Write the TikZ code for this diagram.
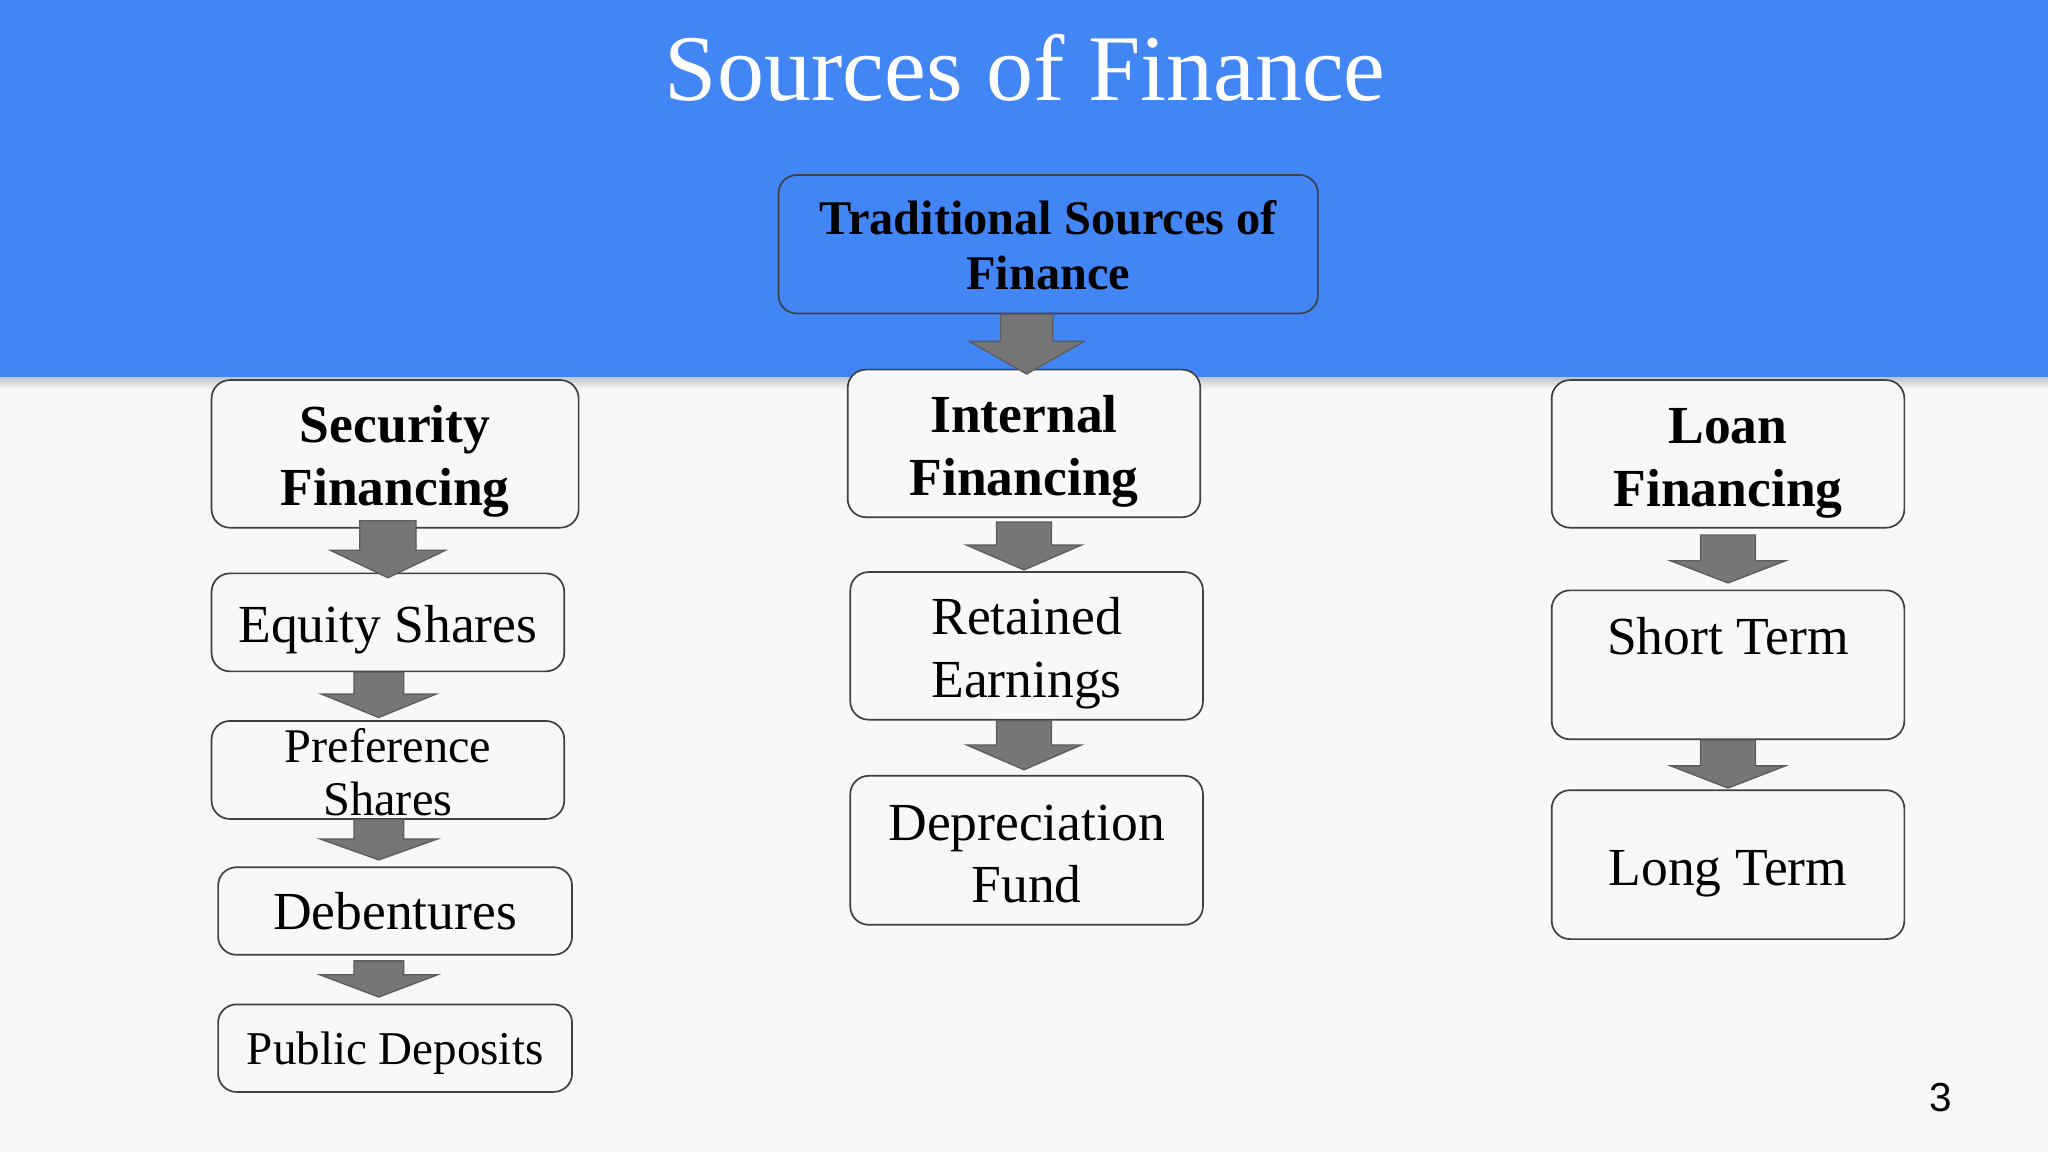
\documentclass[tikz,border=0pt]{standalone}
\usepackage{fontspec}
\setmainfont{Liberation Serif}
\newfontfamily\numfont{Liberation Sans}
\usetikzlibrary{calc}
\definecolor{band}{RGB}{66,133,244}
\definecolor{bg}{RGB}{248,248,250}
\definecolor{edge}{RGB}{64,64,64}
\definecolor{arrowfill}{RGB}{118,118,118}
\newcommand\lifted[1]{\rule{0pt}{#1}}
\tikzset{
  box/.style={draw=edge, line width=1.3pt, rounded corners=14pt, fill=bg, inner sep=0pt,
    align=center, font=\fontsize{41}{48}\selectfont},
  headbox/.style={box, font=\bfseries\fontsize{41}{48}\selectfont},
  lift/.style={execute at begin node={\rule{0pt}{#1}}},
  blockarrow/.style={draw=edge!85, fill=arrowfill, line width=1pt, line join=miter},
}
\newcommand\blockarr[5]{%
  \draw[blockarrow] let \p1=(#1), \p2=(#2) in
    (\x1-#3pt,\y1) -- (\x1+#3pt,\y1) -- (\x1+#3pt,\y2+#5pt) -- (\x1+#4pt,\y2+#5pt)
    -- (\x1,\y2) -- (\x1-#4pt,\y2+#5pt) -- (\x1-#3pt,\y2+#5pt) -- cycle;}
\begin{document}
\begin{tikzpicture}[x=1pt,y=-1pt]
\fill[bg] (0,0) rectangle (1568,882);
\fill[band] (0,0) rectangle (1568,289);
\shade[top color=black!22, bottom color=bg] (0,289) rectangle (1568,298);
\useasboundingbox (0,0) rectangle (1568,882);

\node[anchor=base, text=white, font=\fontsize{72}{80}\selectfont] (title) at (785,77) {Sources of Finance};

\node[headbox, fill=band, font=\bfseries\fontsize{37}{42}\selectfont, minimum width=413pt, minimum height=106pt] (trad) at (802.5,187) {\lifted{28pt}Traditional Sources of\\Finance};

% left column
\node[headbox, minimum width=281pt, minimum height=113pt] (sec) at (302.5,347.5) {\lifted{40pt}Security\\Financing};
\node[box, lift=40pt, minimum width=270pt, minimum height=75pt] (eq) at (297,476.5) {Equity Shares};
\node[box, font=\fontsize{37}{41}\selectfont, minimum width=270pt, minimum height=75pt] (pref) at (297,589.5) {\lifted{29.5pt}Preference\\Shares};
\node[box, minimum width=271pt, minimum height=67pt] (deb) at (302.5,697.5) {Debentures};
\node[box, font=\fontsize{36}{42}\selectfont, lift=33pt, minimum width=271pt, minimum height=67pt] (pub) at (302.5,802.5) {Public Deposits};

% middle column
\node[headbox, minimum width=270pt, minimum height=113pt] (int) at (784,339.5) {\lifted{41pt}Internal\\Financing};
\node[box, minimum width=270pt, minimum height=113pt] (ret) at (786,494.5) {\lifted{40pt}Retained\\Earnings};
\node[box, minimum width=270pt, minimum height=114pt] (dep) at (786,651) {\lifted{33pt}Depreciation\\Fund};

% right column
\node[headbox, minimum width=270pt, minimum height=113pt] (loan) at (1323,347.5) {\lifted{41pt}Loan\\Financing};
\node[box, minimum width=270pt, minimum height=114pt] (short) at (1323,509) {\lifted{32pt}Short Term\\\mbox{}};
\node[box, lift=40pt, minimum width=270pt, minimum height=114pt] (long) at (1323,662) {Long Term};

% block arrows
\blockarr{$(trad.south)+(-16.5,0)$}{$(int.north)+(2,4)$}{20}{44}{25}
\blockarr{$(sec.south)+(-5.5,-6)$}{$(eq.north)+(0,4)$}{21.5}{44}{21}
\blockarr{$(eq.south)+(-7,0)$}{$(pref.north)+(-7,-2)$}{19}{44}{18}
\blockarr{$(pref.south)+(-7,0)$}{$(deb.north)+(0,-5)$}{19}{45}{16}
\blockarr{$(deb.south)+(-12.5,4)$}{$(pub.north)+(0,-5)$}{19}{45}{17}
\blockarr{$(int.south)+(0,3)$}{$(ret.north)+(0,-1)$}{21}{44}{19}
\blockarr{$(ret.south)+(-2,0)$}{$(dep.north)+(0,-4)$}{21}{44}{19}
\blockarr{$(loan.south)+(0,5)$}{$(short.north)+(0,-5)$}{21}{44}{17}
\blockarr{$(short.south)+(0,0)$}{$(long.north)+(0,-1)$}{21}{44}{17}

\node[font=\numfont\fontsize{31}{36}\selectfont] (pg) at (1486,840) {3};
\end{tikzpicture}
\end{document}
